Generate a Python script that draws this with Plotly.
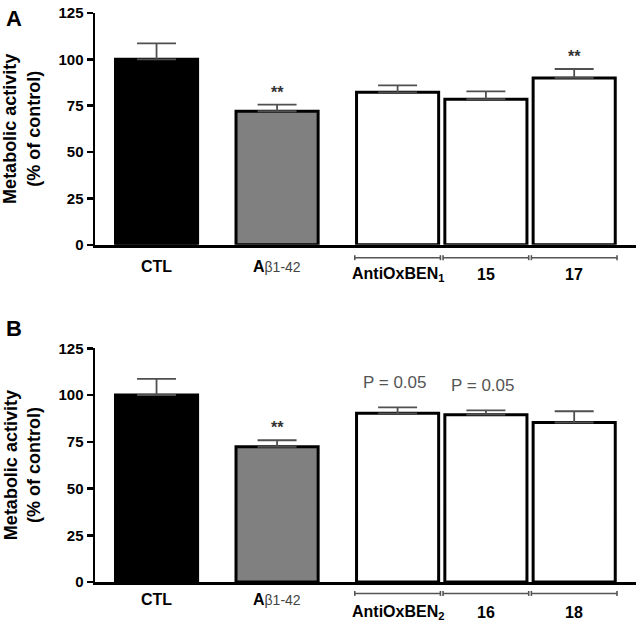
import plotly.graph_objects as go

# ---------------- data ----------------
categories_a = ["CTL", "Aβ1-42", "AntiOxBEN1", "15", "17"]
values_a = [100, 72, 82.2, 78.5, 90]
errors_a = [8.6, 3.6, 3.8, 4.2, 4.8]
stars_a = ["", "**", "", "", "**"]

categories_b = ["CTL", "Aβ1-42", "AntiOxBEN2", "16", "18"]
values_b = [100, 72.3, 90.2, 89.5, 85.3]
errors_b = [8.6, 3.5, 3.2, 2.3, 6]
stars_b = ["", "**", "P = 0.05", "P = 0.05", ""]

tick_values = [0, 25, 50, 75, 100, 125]
tick_labels = ["0", "25", "50", "75", "100", "125"]

# ---------------- layout helpers ----------------
xpos = [0, 1.365, 2.73, 3.73, 4.73]
bar_width = 0.93
xrange = [-0.697, 5.43]
colors = ["black", "#808080", "white", "white", "white"]
FONT = "Liberation Sans, Arial, sans-serif"

label_html = {
    "CTL": "CTL",
    "Aβ1-42": "A<span style='font-size:14px;font-weight:normal;color:#444'>β1-42</span>",
    "AntiOxBEN1": "AntiOxBEN<sub>1</sub>",
    "AntiOxBEN2": "AntiOxBEN<sub>2</sub>",
}

fig = go.Figure()
annotations = []
shapes = []

panels = [
    ("x", "y", categories_a, values_a, errors_a, stars_a, [0.5927, 1.0], 22, 13),
    ("x2", "y2", categories_b, values_b, errors_b, stars_b, [0.0, 0.4108], 17, 11.5),
]

for xr, yr, cats, vals, errs, marks, dom, lab_off, br_off in panels:
    fig.add_trace(go.Bar(
        x=xpos, y=vals, width=bar_width, xaxis=xr, yaxis=yr,
        marker=dict(color=colors, line=dict(color="black", width=3)),
        error_y=dict(type="data", symmetric=False, array=errs,
                     arrayminus=[0] * len(errs), color="#505050",
                     thickness=1.8, width=19.5),
        showlegend=False, hoverinfo="skip",
    ))
    yd = yr + " domain"
    for i, c in enumerate(cats):
        txt = label_html.get(c, c)
        shift = -lab_off if i < 2 else -30
        annotations.append(dict(x=xpos[i], y=0, xref=xr, yref=yd,
                                yshift=shift, yanchor="middle",
                                text=txt, showarrow=False,
                                font=dict(family=FONT, size=16, color="black", weight="bold")))
        if i >= 2:
            # bracket under white bars
            h = 0.485
            dom_h = (dom[1] - dom[0]) * 572
            yb = -br_off / dom_h
            cap = 2.5 / dom_h
            shapes.append(dict(type="line", xref=xr, yref=yd,
                               x0=xpos[i] - h, x1=xpos[i] + h, y0=yb, y1=yb,
                               line=dict(color="#555", width=1.6)))
            for xe in (xpos[i] - h, xpos[i] + h):
                shapes.append(dict(type="line", xref=xr, yref=yd,
                                   x0=xe, x1=xe, y0=yb - cap, y1=yb + cap,
                                   line=dict(color="#555", width=1.6)))
        m = marks[i]
        if m == "**":
            annotations.append(dict(x=xpos[i], y=vals[i] + errs[i], xref=xr, yref=yr,
                                    yanchor="bottom", yshift=2, text="**", showarrow=False,
                                    font=dict(family=FONT, size=16, color="#333", weight="bold")))
        elif m:
            annotations.append(dict(x=xpos[i] - 0.03, y=vals[i] + errs[i], xref=xr, yref=yr,
                                    yanchor="middle", yshift=25, text=m, showarrow=False,
                                    font=dict(family=FONT, size=17, color="#555")))
    # y title
    annotations.append(dict(x=(22 - 95) / 541, y=0.5, xref="paper", yref=yd,
                            xanchor="center", yanchor="middle", textangle=-90,
                            text="Metabolic activity<br>(% of control)", showarrow=False,
                            font=dict(family=FONT, size=18, color="black", weight="bold")))

# panel letters
annotations.append(dict(x=(4 - 95) / 541, y=(582 - 16) / 572, xref="paper", yref="paper",
                        xanchor="left", yanchor="middle", text="A", showarrow=False,
                        font=dict(family=FONT, size=22, color="black", weight="bold")))
annotations.append(dict(x=(4 - 95) / 541, y=(582 - 327) / 572, xref="paper", yref="paper",
                        xanchor="left", yanchor="middle", text="B", showarrow=False,
                        font=dict(family=FONT, size=22, color="black", weight="bold")))

xaxis_common = dict(range=xrange, showline=True, linewidth=3, linecolor="black",
                    showticklabels=False, ticks="", showgrid=False, zeroline=False,
                    domain=[0, 1], fixedrange=True)
yaxis_common = dict(range=[0, 125], tickvals=tick_values, ticktext=tick_labels,
                    ticks="outside", ticklen=6, tickwidth=2.5, tickcolor="black",
                    showline=True, linewidth=2.5, linecolor="black",
                    showgrid=False, zeroline=False, fixedrange=True,
                    tickfont=dict(family=FONT, size=15, color="black", weight="bold"))

fig.update_layout(
    width=640, height=625,
    margin=dict(l=95, r=4, t=10, b=43),
    paper_bgcolor="white", plot_bgcolor="white",
    xaxis=dict(xaxis_common, anchor="y"),
    yaxis=dict(yaxis_common, domain=[0.5927, 1.0], anchor="x"),
    xaxis2=dict(xaxis_common, anchor="y2"),
    yaxis2=dict(yaxis_common, domain=[0.0, 0.4108], anchor="x2"),
    annotations=annotations,
    shapes=shapes,
    bargap=0,
    font=dict(family=FONT),
)

fig.write_html("out.html",
               config={"displayModeBar": False, "staticPlot": True},
               post_script="document.body.style.margin='0';document.body.style.overflow='hidden';")
